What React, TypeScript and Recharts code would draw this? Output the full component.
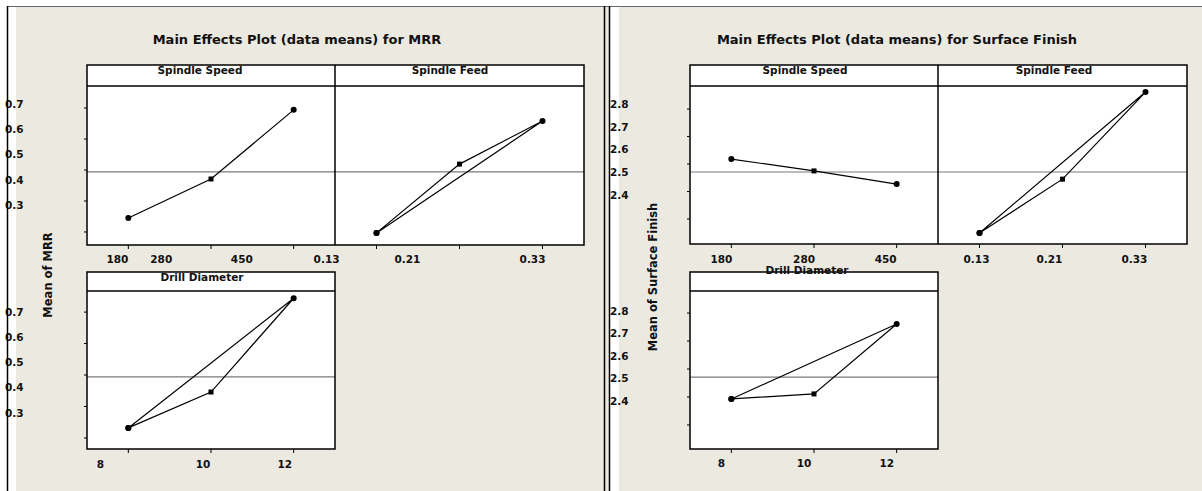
import { Line, LineChart, ReferenceLine, XAxis, YAxis } from 'recharts'

// factor levels
const speedLevels = ['180', '280', '450']
const feedLevels = ['0.13', '0.21', '0.33']
const diameterLevels = ['8', '10', '12']

// MRR level means
const mrrSpeed = [0.345, 0.471, 0.694]
const mrrFeed = [0.297, 0.519, 0.658]
const mrrDiameter = [0.332, 0.446, 0.744]
const mrrGrandMean = 0.494
const mrrTicks = [0.3, 0.4, 0.5, 0.6, 0.7]

// surface finish level means
const sfSpeed = [2.618, 2.575, 2.527]
const sfFeed = [2.349, 2.545, 2.862]
const sfDiameter = [2.493, 2.511, 2.761]
const sfGrandMean = 2.571
const sfTicks = [2.4, 2.5, 2.6, 2.7, 2.8]

const BG = '#ECE9E0'
const FONT = '"DejaVu Sans", Verdana, sans-serif'

type PanelProps = {
    left: number
    top: number
    width: number
    height: number
    yAxisWidth: number
    values: number[]
    closed: boolean
    mean: number
    domain: [number, number]
    ticks: number[]
    yLabels?: { domain: [number, number]; x: number }
    xLabels: string[]
    xLabelAt: number[]
    xLabelY: number
}

// spare room right of the plot so an overhanging tick label isn't clipped
const PAD_RIGHT = 14

function MeanDot(props: any) {
    const { cx, cy, index } = props
    if (cx == null || cy == null) return null
    // the middle level comes out as a little square in the original
    if (index === 1) {
        return <rect key={index} x={cx - 2.5} y={cy - 2.5} width={5} height={5} fill="#000" />
    }
    return <circle key={index} cx={cx} cy={cy} r={3} fill="#000" />
}

const noLabel = () => <g />

function Panel(p: PanelProps) {
    const data = p.values.map((y, i) => ({ x: i + 1, y }))
    if (p.closed) data.push(data[0])
    const showY = p.yAxisWidth > 0
    return (
        <div style={{ position: 'absolute', left: p.left, top: p.top }}>
            <LineChart width={p.width + PAD_RIGHT} height={p.height} data={data} margin={{ top: 0, right: PAD_RIGHT, bottom: 0, left: 0 }}>
                <XAxis
                    dataKey="x"
                    type="number"
                    domain={[0.5, 3.5]}
                    allowDataOverflow
                    ticks={[1, 2, 3]}
                    interval={0}
                    tick={noLabel}
                    tickLine={{ stroke: '#000' }}
                    tickSize={4}
                    axisLine={false}
                    height={29}
                />
                <XAxis
                    xAxisId="lab"
                    dataKey="x"
                    type="number"
                    domain={[0.5, 3.5]}
                    allowDataOverflow
                    ticks={p.xLabelAt}
                    interval={0}
                    tickLine={false}
                    axisLine={false}
                    height={1}
                    tick={(t: any) => (
                        <text x={t.x} y={p.xLabelY + 3.8} textAnchor="middle" fontFamily={FONT} fontWeight="bold" fontSize={10.5} fill="#111">
                            {p.xLabels[t.index]}
                        </text>
                    )}
                />
                <YAxis
                    type="number"
                    domain={p.domain}
                    allowDataOverflow
                    ticks={p.ticks}
                    interval={0}
                    tick={noLabel}
                    tickLine={showY ? { stroke: '#000' } : false}
                    tickSize={3}
                    axisLine={false}
                    width={showY ? p.yAxisWidth - 1 : 0}
                    hide={!showY}
                />
                <YAxis
                    yAxisId="lab"
                    type="number"
                    domain={p.yLabels ? p.yLabels.domain : p.domain}
                    allowDataOverflow
                    ticks={p.ticks}
                    interval={0}
                    tickLine={false}
                    axisLine={false}
                    width={1}
                    hide={!p.yLabels}
                    tick={(t: any) => (
                        <text x={p.yLabels ? p.yLabels.x : 0} y={t.y + 3.8} textAnchor="start" fontFamily={FONT} fontWeight="bold" fontSize={10.5} fill="#111">
                            {Number(t.payload.value).toFixed(1)}
                        </text>
                    )}
                />
                <ReferenceLine y={p.mean} stroke="#7a7a7a" strokeWidth={1.2} />
                {/* invisible series so the label-only axes get a scale */}
                <Line xAxisId="lab" dataKey="y" stroke="none" dot={false} activeDot={false} isAnimationActive={false} />
                <Line yAxisId="lab" dataKey="y" stroke="none" dot={false} activeDot={false} isAnimationActive={false} />
                <Line
                    dataKey="y"
                    type="linear"
                    stroke="#000"
                    strokeWidth={1.2}
                    dot={MeanDot}
                    activeDot={false}
                    isAnimationActive={false}
                />
            </LineChart>
        </div>
    )
}

export default function App() {
    const txt = { fontFamily: FONT, fontWeight: 'bold' as const, fill: '#111' }
    return (
        <div style={{ position: 'absolute', left: 0, top: 0, width: 1202, height: 491, background: '#fff', overflow: 'hidden' }}>
            {/* backdrop: beige windows and white plot boxes */}
            <svg width={1202} height={491} style={{ position: 'absolute', left: 0, top: 0 }}>
                <rect x={16} y={7} width={588} height={484} fill={BG} />
                <rect x={605} y={7} width={4} height={484} fill={BG} />
                <rect x={619} y={7} width={583} height={484} fill={BG} />
                <rect x={87} y={65} width={497} height={180} fill="#fff" />
                <rect x={87} y={272} width={248} height={177} fill="#fff" />
                <rect x={690} y={65} width={497} height={179} fill="#fff" />
                <rect x={690} y={272} width={248} height={177} fill="#fff" />
            </svg>

            <Panel left={0} top={86} width={335} height={189} yAxisWidth={87}
                values={mrrSpeed} closed={false} mean={mrrGrandMean}
                domain={[0.258, 0.771]} ticks={mrrTicks}
                yLabels={{ domain: [0.142, 0.771], x: 5 }}
                xLabels={[...speedLevels, feedLevels[0]]} xLabelAt={[0.867, 1.398, 2.373, 3.398]} xLabelY={173} />
            <Panel left={335} top={86} width={249} height={189} yAxisWidth={0}
                values={mrrFeed} closed={true} mean={mrrGrandMean}
                domain={[0.258, 0.771]} ticks={mrrTicks}
                xLabels={feedLevels.slice(1)} xLabelAt={[1.373, 2.88]} xLabelY={173} />
            <Panel left={0} top={291} width={335} height={188} yAxisWidth={87}
                values={mrrDiameter} closed={true} mean={mrrGrandMean}
                domain={[0.265, 0.767]} ticks={mrrTicks}
                yLabels={{ domain: [0.157, 0.783], x: 5 }}
                xLabels={diameterLevels} xLabelAt={[0.663, 1.904, 2.892]} xLabelY={172.7} />

            <Panel left={604} top={86} width={334} height={188} yAxisWidth={86}
                values={sfSpeed} closed={false} mean={sfGrandMean}
                domain={[2.309, 2.884]} ticks={sfTicks}
                yLabels={{ domain: [2.185, 2.879], x: 6 }}
                xLabels={speedLevels} xLabelAt={[0.88, 1.88, 2.867]} xLabelY={173} />
            <Panel left={938} top={86} width={249} height={188} yAxisWidth={0}
                values={sfFeed} closed={true} mean={sfGrandMean}
                domain={[2.309, 2.884]} ticks={sfTicks}
                xLabels={feedLevels} xLabelAt={[0.964, 1.843, 2.867]} xLabelY={173} />
            <Panel left={604} top={291} width={334} height={188} yAxisWidth={86}
                values={sfDiameter} closed={true} mean={sfGrandMean}
                domain={[2.314, 2.879]} ticks={sfTicks}
                yLabels={{ domain: [2.187, 2.889], x: 6 }}
                xLabels={diameterLevels} xLabelAt={[0.88, 1.88, 2.88]} xLabelY={172.5} />

            {/* frames, titles and headers on top */}
            <svg width={1202} height={491} style={{ position: 'absolute', left: 0, top: 0, pointerEvents: 'none' }}>
                <line x1={7} y1={6.5} x2={1202} y2={6.5} stroke="#666" strokeWidth={1} />
                <line x1={7.5} y1={6} x2={7.5} y2={491} stroke="#000" strokeWidth={1.5} />
                <line x1={604.5} y1={6} x2={604.5} y2={491} stroke="#000" strokeWidth={1.5} />
                <line x1={609.5} y1={6} x2={609.5} y2={491} stroke="#000" strokeWidth={1.5} />

                <g fill="none" stroke="#000" strokeWidth={1.5}>
                    <rect x={87} y={65} width={497} height={180} />
                    <line x1={87} y1={86} x2={584} y2={86} />
                    <line x1={335} y1={65} x2={335} y2={245} />
                    <rect x={87} y={272} width={248} height={177} />
                    <line x1={87} y1={291} x2={335} y2={291} />

                    <rect x={690} y={65} width={497} height={179} />
                    <line x1={690} y1={86} x2={1187} y2={86} />
                    <line x1={938} y1={65} x2={938} y2={244} />
                    <rect x={690} y={272} width={248} height={177} />
                    <line x1={690} y1={291} x2={938} y2={291} />
                </g>

                <text x={297} y={44} textAnchor="middle" fontSize={13} {...txt}>Main Effects Plot (data means) for MRR</text>
                <text x={897} y={44} textAnchor="middle" fontSize={13} {...txt}>Main Effects Plot (data means) for Surface Finish</text>

                <text x={200} y={74} textAnchor="middle" fontSize={10.5} {...txt}>Spindle Speed</text>
                <text x={450} y={74} textAnchor="middle" fontSize={10.5} {...txt}>Spindle Feed</text>
                <text x={202} y={281} textAnchor="middle" fontSize={10.5} {...txt}>Drill Diameter</text>
                <text x={805} y={74} textAnchor="middle" fontSize={10.5} {...txt}>Spindle Speed</text>
                <text x={1054} y={74} textAnchor="middle" fontSize={10.5} {...txt}>Spindle Feed</text>
                <text x={807} y={274} textAnchor="middle" fontSize={10.5} {...txt}>Drill Diameter</text>

                <text transform="translate(52,275) rotate(-90)" textAnchor="middle" fontSize={11.5} {...txt}>Mean of MRR</text>
                <text transform="translate(657,277) rotate(-90)" textAnchor="middle" fontSize={11.5} {...txt}>Mean of  Surface Finish</text>
            </svg>
        </div>
    )
}
